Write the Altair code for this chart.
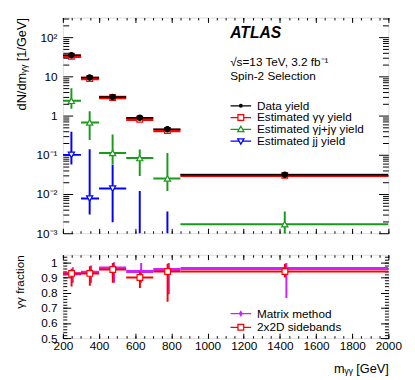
import altair as alt
import pandas as pd

FONT = "Liberation Sans"

# ---------------- data ----------------
bin_lo = [200, 300, 400, 550, 700, 850]
bin_hi = [300, 400, 550, 700, 850, 2000]
bin_x = [247, 348, 475, 625, 778, 1427]

data_yield = [35.0, 9.4, 3.0, 0.89, 0.45, 0.031]
data_err = [0.6, 0.32, 0.14, 0.08, 0.055, 0.005]

gg_yield = [33.0, 8.9, 2.9, 0.81, 0.42, 0.030]
gg_err = [1.5, 0.5, 0.2, 0.08, 0.05, 0.004]

gj_yield = [2.4, 0.67, 0.112, 0.083, 0.025, 0.0017]
gj_hi = [5.0, 1.3, 0.33, 0.138, 0.112, 0.0036]
gj_lo = [1.5, 0.24, 0.057, 0.029, 0.012, 0.0001]

jj_yield = [0.1, 0.0077, 0.0138, None, None, None]
jj_hi = [0.39, 0.14, 0.056, 0.012, 0.0036, 0.00105]
jj_lo = [0.057, 0.003, 0.0019, 0.0001, 0.0001, 0.0001]

mm_x = [255, 356, 483, 633, 786, 1436]
mm_frac = [0.925, 0.935, 0.963, 0.94, 0.953, 0.96]
mm_hi = [0.968, 0.98, 1.0, 0.995, 0.995, 0.995]
mm_lo = [0.866, 0.866, 0.866, 0.866, 0.79, 0.765]

sb_x = [248, 349, 476, 626, 779, 1428]
sb_frac = [0.927, 0.927, 0.953, 0.90, 0.94, 0.94]
sb_hi = [0.957, 0.974, 0.995, 0.94, 0.99, 0.99]
sb_lo = [0.84, 0.845, 0.866, 0.83, 0.74, 0.90]

top_names = ["Data yield", "Estimated \u03b3\u03b3 yield",
             "Estimated \u03b3j+j\u03b3 yield", "Estimated jj yield"]
bot_names = ["Matrix method", "2x2D sidebands"]

C_DATA, C_GG, C_GJ, C_JJ, C_MM = "#000000", "#ff0000", "#1a9a1a", "#0000ff", "#cc22ff"

# ---------------- tick positions ----------------
x_major = list(range(200, 2001, 200))
x_minor = list(range(200, 2001, 50))
ytop_major = [0.001, 0.01, 0.1, 1, 10, 100]
ytop_minor = [k * 10.0 ** d for d in range(-3, 3) for k in range(2, 10) if k * 10.0 ** d <= 320]
ybot_major = [0.5, 0.6, 0.7, 0.8, 0.9, 1.0]
ybot_minor = [round(0.5 + 0.02 * i, 2) for i in range(28)]

XS = alt.Scale(domain=[200, 2000], nice=False, zero=False)
YT = alt.Scale(type="log", domain=[0.001, 320], nice=False)
YB = alt.Scale(domain=[0.5, 1.05], nice=False, zero=False)


def ax(orient, values, size, labels=False, **kw):
    d = dict(orient=orient, values=values, tickSize=size, offset=-size, labels=labels,
             domain=False, grid=False, ticks=True, tickColor="black", tickWidth=1,
             labelFont=FONT, labelFontSize=12, labelColor="black", title=None,
             labelFlush=False, labelOverlap=False)
    d.update(kw)
    return alt.Axis(**d)


def axis_layer(df, xf, yf, xs, ys, xa, ya):
    return alt.Chart(df).mark_point(opacity=0, clip=True).encode(
        x=alt.X(xf, type="quantitative", scale=xs, axis=xa),
        y=alt.Y(yf, type="quantitative", scale=ys, axis=ya))


def series(xc, val, lo, hi):
    return pd.DataFrame({"lo": bin_lo, "hi": bin_hi, "xc": xc, "val": val, "elo": lo, "ehi": hi})


def series_layers(df, ys, color, shape, size, fill, hw, vw, sw=1.2, hcolor=None):
    X = lambda f: alt.X(f, type="quantitative", scale=XS, axis=None)
    Y = lambda f: alt.Y(f, type="quantitative", scale=ys, axis=None)
    h = alt.Chart(df).mark_rule(color=hcolor or color, strokeWidth=hw, clip=True).encode(
        x=X("lo"), x2=alt.X2("hi"), y=Y("val"))
    v = alt.Chart(df).mark_rule(color=color, strokeWidth=vw, clip=True).encode(
        x=X("xc"), y=Y("elo"), y2=alt.Y2("ehi"))
    p = alt.Chart(df).mark_point(shape=shape, size=size, fill=fill, stroke=color,
                                 strokeWidth=sw, opacity=1, clip=True).encode(
        x=X("xc"), y=Y("val"))
    return [h, v, p]


def legend_layer(names, paths, strokes, fills, ys, yout, lx, ly, rowh):
    df = pd.DataFrame({"series": names, "x": [1000] * len(names), "y": [yout] * len(names)})
    lg = alt.Legend(orient="none", legendX=lx, legendY=ly, title=None, labelFont=FONT,
                    labelFontSize=12, labelColor="black", symbolSize=441, symbolStrokeWidth=1.3,
                    labelOffset=5, rowPadding=0, clipHeight=rowh, padding=0, labelLimit=300,
                    symbolOpacity=1)
    return alt.Chart(df).mark_point(opacity=0, strokeWidth=1.3, clip=True).encode(
        x=alt.X("x", type="quantitative", scale=XS, axis=None),
        y=alt.Y("y", type="quantitative", scale=ys, axis=None),
        shape=alt.Shape("series:N", scale=alt.Scale(domain=names, range=paths), legend=lg),
        stroke=alt.Stroke("series:N", scale=alt.Scale(domain=names, range=strokes), legend=lg),
        fill=alt.Fill("series:N", scale=alt.Scale(domain=names, range=fills), legend=lg),
    )


# ---------------- top panel ----------------
df_data = series(bin_x, data_yield, [v - e for v, e in zip(data_yield, data_err)],
                 [v + e for v, e in zip(data_yield, data_err)])
df_gg = series(bin_x, gg_yield, [v - e for v, e in zip(gg_yield, gg_err)],
               [v + e for v, e in zip(gg_yield, gg_err)])
df_gj = series(bin_x, gj_yield, gj_lo, gj_hi)
df_jj = series(bin_x, jj_yield, jj_lo, jj_hi)

ylab_top = ("datum.value < 0.002 ? '10\u207b\u00b3' : datum.value < 0.02 ? '10\u207b\u00b2' : "
            "datum.value < 0.2 ? '10\u207b\u00b9' : datum.value < 2 ? '1' : "
            "datum.value < 20 ? '10' : '10\u00b2'")

top_axes = [
    axis_layer(df_data, "xc", "val", XS, YT, ax("bottom", x_major, 5),
               ax("left", ytop_major, 10, labels=True, labelExpr=ylab_top, labelPadding=6,
                  title="dN/dm\u1d67\u1d67 [1/GeV]", titleAnchor="end", titleFont=FONT,
                  titleFontSize=13, titleFontWeight="normal", titleColor="black", titlePadding=8)),
    axis_layer(df_data, "xc", "val", XS, YT, ax("bottom", x_minor, 2.5), ax("left", ytop_minor, 6)),
    axis_layer(df_data, "xc", "val", XS, YT, ax("top", x_major, 5), ax("right", ytop_major, 10)),
    axis_layer(df_data, "xc", "val", XS, YT, ax("top", x_minor, 2.5), ax("right", ytop_minor, 6)),
]

top_series = (
    series_layers(df_jj, YT, C_JJ, "triangle-down", 40, "white", 2, 2)
    + series_layers(df_gj, YT, C_GJ, "triangle-up", 40, "white", 2, 2)
    + series_layers(df_gg, YT, C_GG, "square", 34, "white", 3.5, 1.5)
    + series_layers(df_data, YT, C_DATA, "circle", 30, C_DATA, 1.5, 1.5)
)

ann = pd.DataFrame({"x": [1125, 1125], "y": [23.4, 10.5],
                    "text": ["\u221as=13 TeV, 3.2 fb\u207b\u00b9", "Spin-2 Selection"]})
atlas = pd.DataFrame({"x": [1125], "y": [132], "text": ["ATLAS"]})
ann_layer = alt.Chart(ann).mark_text(align="left", baseline="middle", font=FONT, fontSize=12,
                                     color="black").encode(
    x=alt.X("x", type="quantitative", scale=XS, axis=None),
    y=alt.Y("y", type="quantitative", scale=YT, axis=None), text="text:N")
atlas_layer = alt.Chart(atlas).mark_text(align="left", baseline="middle", font=FONT, fontSize=16,
                                         fontWeight="bold", fontStyle="italic",
                                         color="black").encode(
    x=alt.X("x", type="quantitative", scale=XS, axis=None),
    y=alt.Y("y", type="quantitative", scale=YT, axis=None), text="text:N")

top_paths = [
    "M-1,0H1M-0.13,0A0.13,0.13 0 1,0 0.13,0A0.13,0.13 0 1,0 -0.13,0Z",
    "M-1,0H-0.28M0.28,0H1M-0.28,-0.28H0.28V0.28H-0.28Z",
    "M-1,0H-0.17M0.17,0H1M0,-0.3L0.3,0.22H-0.3Z",
    "M-1,0H-0.17M0.17,0H1M0,0.3L0.3,-0.22H-0.3Z",
]
top_legend = legend_layer(top_names, top_paths, [C_DATA, C_GG, C_GJ, C_JJ],
                          [C_DATA, "white", "white", "white"], YT, 1e-6, 170, 84, 12)

top = alt.layer(*(top_axes + top_series + [ann_layer, atlas_layer, top_legend])).resolve_axis(
    x="independent", y="independent").properties(width=332, height=220)

# ---------------- bottom panel ----------------
df_mm = pd.DataFrame({"lo": bin_lo, "hi": bin_hi, "xc": mm_x, "val": mm_frac, "elo": mm_lo, "ehi": mm_hi})
df_sb = pd.DataFrame({"lo": bin_lo, "hi": bin_hi, "xc": sb_x, "val": sb_frac, "elo": sb_lo, "ehi": sb_hi})

ylab_bot = "datum.value > 0.99 ? '1' : format(datum.value, '.1f')"

bot_axes = [
    axis_layer(df_sb, "xc", "val", XS, YB,
               ax("bottom", x_major, 5, labels=True, format="d", labelPadding=3,
                  title="m\u1d67\u1d67 [GeV]", titleAnchor="end", titleFont=FONT, titleFontSize=13,
                  titleFontWeight="normal", titleColor="black", titlePadding=11),
               ax("left", ybot_major, 8, labels=True, labelExpr=ylab_bot, labelPadding=6,
                  title="\u03b3\u03b3 fraction", titleAnchor="end", titleFont=FONT,
                  titleFontSize=12, titleFontWeight="normal", titleColor="black", titlePadding=14)),
    axis_layer(df_sb, "xc", "val", XS, YB, ax("bottom", x_minor, 2.5), ax("left", ybot_minor, 4)),
    axis_layer(df_sb, "xc", "val", XS, YB, ax("top", x_major, 5), ax("right", ybot_major, 8)),
    axis_layer(df_sb, "xc", "val", XS, YB, ax("top", x_minor, 2.5), ax("right", ybot_minor, 4)),
]

bot_series = (
    series_layers(df_mm, YB, C_MM, "diamond", 14, C_MM, 3, 2)
    + series_layers(df_sb, YB, C_GG, "square", 34, "white", 2, 2)
)

bot_paths = [
    "M-1,0H1M0,-0.2L0.12,0L0,0.2L-0.12,0Z",
    "M-1,0H-0.28M0.28,0H1M-0.28,-0.28H0.28V0.28H-0.28Z",
]
bot_legend = legend_layer(bot_names, bot_paths, [C_MM, C_GG], [C_MM, "white"], YB, 0.0,
                          170, 53, 14)

bottom = alt.layer(*(bot_axes + bot_series + [bot_legend])).resolve_axis(
    x="independent", y="independent").properties(width=332, height=85)

chart = alt.vconcat(top, bottom, spacing=14).resolve_scale(
    x="independent", y="independent", shape="independent", stroke="independent",
    fill="independent").properties(
    padding={"left": 5, "top": 5, "right": 5, "bottom": 0}
).configure_view(stroke="black", strokeWidth=1).configure(font=FONT)

chart.save("out.html", embed_options={"renderer": "svg", "actions": False})
